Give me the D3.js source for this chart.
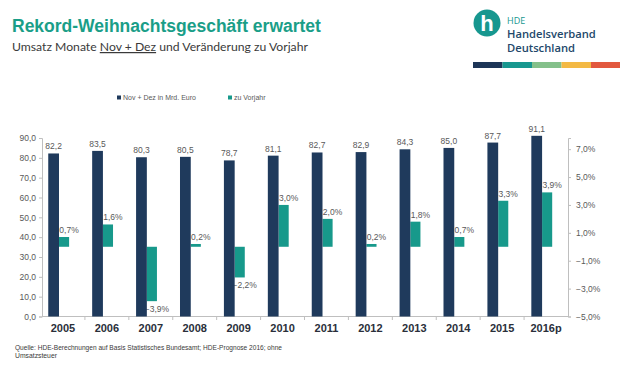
<!DOCTYPE html>
<html>
<head>
<meta charset="utf-8">
<script src="https://cdn.jsdelivr.net/npm/d3@7"></script>
<style>
  body { margin: 0; background: #fff; }
  svg { display: block; }
</style>
</head>
<body>
<div id="container"><svg></svg></div>
<script>
let width = 620;
let height = 388;

// data
let years = ['2005', '2006', '2007', '2008', '2009', '2010', '2011', '2012', '2013', '2014', '2015', '2016p'];
let sales = [82.2, 83.5, 80.3, 80.5, 78.7, 81.1, 82.7, 82.9, 84.3, 85.0, 87.7, 91.1];
let change = [0.7, 1.6, -3.9, 0.2, -2.2, 3.0, 2.0, 0.2, 1.8, 0.7, 3.3, 3.9];
let leftTicks = [0, 10, 20, 30, 40, 50, 60, 70, 80, 90];
let rightTicks = [-5, -3, -1, 1, 3, 5, 7];
let legendNames = ['Nov + Dez in Mrd. Euro', 'zu Vorjahr'];
let logoColors = ['#1d3557', '#17978f', '#84c08a', '#f3b944', '#e2583e'];

let navy = '#1f3a5c';
let teal = '#17998b';
let grey = '#595959';
let fontFamily = 'Liberation Sans, Arial, sans-serif';

let de = v => d3.format('.1f')(v).replace('.', ',');

function draw_main() {
    let svg = d3.select('#container').select('svg')
        .attr('width', width)
        .attr('height', height)
        .style('font-family', fontFamily);

    svg.append('rect').attr('width', width).attr('height', height).attr('fill', '#fff');

    // title
    svg.append('text')
        .attr('x', 12).attr('y', 32)
        .attr('font-size', 17.5).attr('font-weight', 'bold')
        .attr('fill', '#1a9e88')
        .text('Rekord-Weihnachtsgeschäft erwartet');

    let sub = svg.append('text')
        .attr('x', 12).attr('y', 51)
        .attr('font-family', 'Lato, sans-serif')
        .attr('font-size', 12.2).attr('fill', '#3a3a3a');
    sub.append('tspan').text('Umsatz Monate ');
    sub.append('tspan').attr('text-decoration', 'underline').text('Nov + Dez');
    sub.append('tspan').text(' und Veränderung zu Vorjahr');

    // logo
    let logo = svg.append('g');
    logo.append('circle').attr('cx', 487).attr('cy', 23).attr('r', 13.5).attr('fill', '#17978f');
    logo.append('text').attr('x', 487).attr('y', 31).attr('text-anchor', 'middle')
        .attr('font-size', 22).attr('font-weight', 'bold').attr('fill', '#fff').text('h');
    logo.append('text').attr('x', 507).attr('y', 23.5).attr('font-family', 'Open Sans, sans-serif')
        .attr('font-size', 9).attr('fill', '#17978f').text('HDE');
    logo.append('text').attr('x', 507).attr('y', 38).attr('font-family', 'Open Sans, sans-serif')
        .attr('font-size', 11.2).attr('font-weight', 600).attr('fill', '#23486a').text('Handelsverband');
    logo.append('text').attr('x', 507).attr('y', 52).attr('font-family', 'Open Sans, sans-serif')
        .attr('font-size', 11.2).attr('font-weight', 600).attr('fill', '#23486a').text('Deutschland');
    logo.selectAll('rect')
        .data(logoColors)
        .enter().append('rect')
        .attr('x', (d, i) => 473 + i * 29.5)
        .attr('y', 62).attr('width', 29.5).attr('height', 6)
        .attr('fill', d => d);

    // scales
    let x = d3.scaleBand().domain(years).range([41, 568]);
    let bw = x.bandwidth();
    let yL = d3.scaleLinear().domain([0, 90]).range([316.5, 138]);
    let yR = d3.scaleLinear().domain([-5, 7.8]).range([316.5, 138]);

    let navyX = d => x(d) + 0.165 * bw;
    let navyW = 0.245 * bw;
    let tealX = d => navyX(d) + navyW;
    let tealW = 0.23 * bw;

    // left axis
    let axisL = d3.axisLeft(yL).tickValues(leftTicks).tickFormat(de).tickSize(3).tickPadding(3);
    let gL = svg.append('g').attr('transform', 'translate(42,0)').call(axisL);
    gL.select('.domain').attr('stroke', '#bfbfbf');
    gL.selectAll('.tick line').attr('stroke', '#bfbfbf');
    gL.selectAll('text').attr('font-family', fontFamily).attr('font-size', 8.5).attr('fill', grey);

    // right axis
    let axisR = d3.axisRight(yR).tickValues(rightTicks).tickFormat(d => de(d) + '%').tickSize(3).tickPadding(5);
    let gR = svg.append('g').attr('transform', 'translate(568,0)').call(axisR);
    gR.select('.domain').attr('stroke', '#bfbfbf');
    gR.selectAll('.tick line').attr('stroke', '#bfbfbf');
    gR.selectAll('text').attr('font-family', fontFamily).attr('font-size', 8.5).attr('fill', grey);

    // bottom axis
    let gB = svg.append('g');
    gB.append('line').attr('x1', 42).attr('x2', 568).attr('y1', 316.5).attr('y2', 316.5).attr('stroke', '#bfbfbf');
    gB.selectAll('line.tk')
        .data(years.slice(1))
        .enter().append('line')
        .attr('class', 'tk')
        .attr('x1', d => x(d)).attr('x2', d => x(d))
        .attr('y1', 316.5).attr('y2', 320)
        .attr('stroke', '#bfbfbf');
    gB.selectAll('text')
        .data(years)
        .enter().append('text')
        .attr('x', d => x(d) + bw / 2)
        .attr('y', 332)
        .attr('text-anchor', 'middle')
        .attr('font-size', 11).attr('font-weight', 'bold')
        .attr('fill', '#2a2f3a')
        .text(d => d);

    // teal bars (secondary axis)
    svg.append('g').selectAll('rect')
        .data(years)
        .enter().append('rect')
        .attr('x', d => tealX(d))
        .attr('width', tealW)
        .attr('y', (d, i) => Math.min(yR(change[i]), yR(0)))
        .attr('height', (d, i) => Math.abs(yR(change[i]) - yR(0)))
        .attr('fill', teal);

    svg.append('g').selectAll('text')
        .data(years)
        .enter().append('text')
        .attr('x', d => tealX(d) + tealW / 2 + 5)
        .attr('y', (d, i) => change[i] >= 0 ? yR(change[i]) - 4 : yR(change[i]) + 11)
        .attr('text-anchor', 'middle')
        .attr('font-size', 8.5).attr('fill', grey)
        .text((d, i) => de(change[i]) + '%');

    // navy bars
    svg.append('g').selectAll('rect')
        .data(years)
        .enter().append('rect')
        .attr('x', d => navyX(d))
        .attr('width', navyW)
        .attr('y', (d, i) => yL(sales[i]))
        .attr('height', (d, i) => yL(0) - yL(sales[i]))
        .attr('fill', navy);

    svg.append('g').selectAll('text')
        .data(years)
        .enter().append('text')
        .attr('x', d => navyX(d) + navyW / 2)
        .attr('y', (d, i) => yL(sales[i]) - 4)
        .attr('text-anchor', 'middle')
        .attr('font-size', 8.5).attr('fill', grey)
        .text((d, i) => de(sales[i]));

    // legend
    let legend = svg.selectAll('.legend')
        .data(legendNames)
        .enter().append('g')
        .attr('class', 'legend')
        .attr('transform', (d, i) => `translate(${i == 0 ? 117 : 228}, 0)`);
    legend.append('rect')
        .attr('x', 0).attr('y', 95.5).attr('width', 4).attr('height', 4)
        .attr('fill', (d, i) => i == 0 ? navy : teal);
    legend.append('text')
        .attr('x', 6).attr('y', 100)
        .attr('font-size', 7).attr('fill', grey)
        .text(d => d);

    // source
    svg.append('text')
        .attr('x', 15).attr('y', 349.5)
        .attr('font-size', 6.8).attr('fill', '#3a3a3a')
        .attr('textLength', 267).attr('lengthAdjust', 'spacingAndGlyphs')
        .text('Quelle: HDE-Berechnungen auf Basis Statistisches Bundesamt; HDE-Prognose 2016; ohne');
    svg.append('text')
        .attr('x', 15).attr('y', 358)
        .attr('font-size', 6.8).attr('fill', '#3a3a3a')
        .text('Umsatzsteuer');
}

draw_main();
</script>
</body>
</html>
